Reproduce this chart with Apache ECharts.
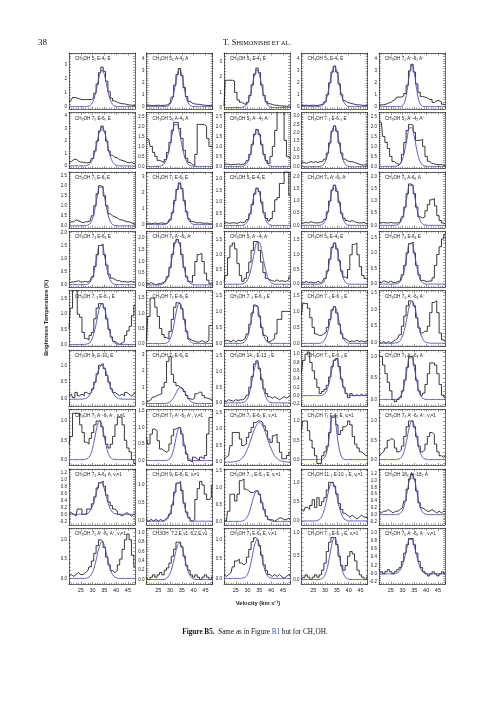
<!DOCTYPE html>
<html><head><meta charset="utf-8">
<script src="https://cdn.jsdelivr.net/npm/echarts@6/dist/echarts.min.js"></script>
<style>html,body{margin:0;padding:0;background:#fff}#c{width:500px;height:708px}</style>
</head><body><div id="c"></div>
<script>
const velocity = [20,21,22,23,24,25,26,27,28,29,30,31,32,33,34,35,36,37,38,39,40,41,42,43,44,45,46,47,48];
const titles = [
 'CH₃OH 5₁ E-4₀ E','CH₃OH 5₄ A-4₄ A','CH₃OH 5₄ E-4₄ E','CH₃OH 5₀ E-4₀ E','CH₃OH 7₁ A⁺-6₁ A⁺',
 'CH₃OH 7₀ E-6₀ E','CH₃OH 5₃ A-4₃ A','CH₃OH 5₂ A⁻-4₂ A⁻','CH₃OH 7₋₁ E-6₋₁ E','CH₃OH 5₂ A⁺-4₂ A⁺',
 'CH₃OH 7₁ E-6₁ E','CH₃OH 7₂ E-6₂ E','CH₃OH 5₁ E-4₁ E','CH₃OH 7₀ A⁺-6₀ A⁺','CH₃OH 7₆ A-6₆ A',
 'CH₃OH 7₃ E-6₃ E','CH₃OH 7₃ A⁺-6₃ A⁺','CH₃OH 5₁ A⁻-4₁ A⁻','CH₃OH 5₃ E-4₃ E','CH₃OH 7₄ E-6₄ E',
 'CH₃OH 7₋₃ E-6₋₃ E','CH₃OH 7₅ E-6₅ E','CH₃OH 7₋₄ E-6₋₄ E','CH₃OH 7₋₅ E-6₋₅ E','CH₃OH 7₄ A⁻-6₄ A⁻',
 'CH₃OH 9₅ E-10₄ E','CH₃OH 7₆ E-6₆ E','CH₃OH 14₋₁ E-13₋₂ E','CH₃OH 7₋₆ E-6₋₆ E','CH₃OH 7₃ A⁻-6₃ A⁻',
 'CH₃OH 7₁ A⁻-6₁ A⁻, vₜ=1','CH₃OH 7₂ A⁺-6₂ A⁺, vₜ=1','CH₃OH 7₀ E-6₀ E, vₜ=1','CH₃OH 7₁ E-6₁ E, vₜ=1','CH₃OH 7₀ A⁺-6₀ A⁺, vₜ=1',
 'CH₃OH 7₄ A-6₄ A, vₜ=1','CH₃OH 9₃ E-8₂ E, vₜ=1','CH₃OH 7₋₂ E-6₋₂ E, vₜ=1','CH₃OH 11₋₁ E-10₋₂ E, vₜ=1','CH₃OH 18₃ A⁺-18₂ A⁻',
 'CH₃OH 7₅ A⁺-6₅ A⁺, vₜ=1','CH3OH  7,2,E,v1  6,2,E,v1','CH₃OH 7₃ E-6₃ E, vₜ=1','CH₃OH 7₋₃ E-6₋₃ E, vₜ=1','CH₃OH 7₆ A⁻-6₆ A⁻, vₜ=1'
];
const yMin = [-0.17,-0.2,-0.1,-0.2,-0.2, -0.2,-0.1,-0.1,-0.1,-0.1, -0.1,-0.2,-0.1,-0.1,-0.1, -0.1,-0.1,-0.1,-0.1,-0.1,
 -0.07,-0.1,-0.1,-0.1,-0.1, -0.2,-0.15,-0.1,-0.25,-0.15, -0.15,-0.15,-0.1,-0.15,-0.15, -0.3,-0.1,-0.1,-0.1,-0.3, -0.15,-0.1,-0.15,-0.1,-0.25];
const yMax = [3.8,4.5,3.6,4.5,4.5, 4.3,2.7,2.7,3.2,2.7, 2.7,3.3,2.3,2.2,2.2, 2.05,2.3,1.8,1.8,1.7,
 1.78,1.75,1.65,1.65,1.55, 1.45,3.3,1.7,1.1,1.15, 1.3,1.55,1.6,1.3,1.3, 1.3,1.45,1.55,1.35,1.35, 1.3,1.1,1.3,1.1,1.1];
const yStep = [1,1,1,1,1, 1,0.5,0.5,0.5,0.5, 0.5,1,0.5,0.5,0.5, 0.5,0.5,0.5,0.5,0.5,
 0.5,0.5,0.5,0.5,0.5, 0.5,1,0.5,0.2,0.5, 0.5,0.5,0.5,0.5,0.5, 0.2,0.5,0.5,0.5,0.2, 0.5,0.2,0.5,0.5,0.2];

const obs01 = [0.35,0.45,0.65,0.6,0.55,0.5,0.5,0.5,0.5,0.5,0.6,0.95,1.6,2.4,2.8,2.5,1.8,1.05,0.6,0.4,0.3,0.25,0.2,0.2,0.15,0.12,0.1,0.08,0.05];
const fit01 = [0,0,0,0,0,0,0,0,0.02,0.08,0.29,0.76,1.50,2.27,2.6,2.27,1.50,0.76,0.29,0.08,0.02,0,0,0,0,0,0,0,0];
const obs02 = [0.1,0.12,0.1,0.08,0.1,0.12,0.1,0.1,0.12,0.15,0.3,0.8,1.8,2.7,3.2,2.6,1.6,0.85,0.45,0.3,0.22,0.2,0.18,0.15,0.12,0.1,0.1,0.08,0.1];
const fit02 = [0,0,0,0,0,0,0,0,0.01,0.04,0.2,0.66,1.58,2.65,3.15,2.65,1.58,0.66,0.2,0.04,0.01,0,0,0,0,0,0,0,0];
const obs03 = [0.1,1.8,1.8,1.8,1.75,1.0,0.5,0.35,0.25,0.2,0.35,0.8,1.5,2.2,2.6,2.3,1.5,0.8,0.4,0.25,0.2,0.15,0.15,0.12,0.1,0.1,0.08,0.1,0.1];
const fit03 = [0,0,0,0,0,0,0,0,0.02,0.08,0.28,0.73,1.45,2.18,2.5,2.18,1.45,0.73,0.28,0.08,0.02,0,0,0,0,0,0,0,0];
const obs04 = [0.1,0.1,0.12,0.1,0.1,0.12,0.1,0.1,0.15,0.2,0.4,1.0,2.0,2.9,3.4,2.9,1.9,1.0,0.5,0.35,0.3,0.25,0.2,0.15,0.15,0.12,0.1,0.1,0.1];
const fit04 = [0,0,0,0,0,0,0,0,0.02,0.11,0.37,0.97,1.94,2.92,3.35,2.92,1.94,0.97,0.37,0.11,0.02,0,0,0,0,0,0,0,0];
const obs05 = [0.1,0.15,0.15,0.2,0.3,0.35,0.5,0.6,0.8,0.8,0.9,1.1,1.8,3.0,3.55,2.9,1.9,1.2,0.85,0.8,0.75,0.6,0.6,0.35,0.5,0.5,0.4,0.2,0.15];
const fit05 = [0,0,0,0,0,0,0,0,0,0.01,0.09,0.46,1.44,2.8,3.5,2.8,1.44,0.46,0.09,0.01,0,0,0,0,0,0,0,0,0];
const obs06 = [0.3,0.35,0.5,0.55,0.4,0.3,0.3,0.25,0.25,0.3,0.6,1.2,2.0,2.8,3.2,2.8,2.0,1.2,0.85,0.7,0.65,0.5,0.45,0.4,0.3,0.25,0.3,0.2,0.2];
const fit06 = [0,0,0,0,0,0,0,0.01,0.06,0.19,0.52,1.14,1.99,2.77,3.1,2.77,1.99,1.14,0.52,0.19,0.06,0.01,0,0,0,0,0,0,0];
const obs07 = [1.4,1.35,1.0,0.7,0.5,0.3,0.25,0.2,0.35,0.7,1.2,1.8,2.2,2.2,1.9,1.4,0.8,0.4,0.2,0.1,0.05,0.6,2.1,2.1,2.1,2.0,1.4,1.0,1.0];
const fit07 = [0,0,0,0,0,0,0.02,0.08,0.23,0.55,1.08,1.67,2.09,2.09,1.67,1.08,0.55,0.23,0.08,0.02,0,0,0,0,0,0,0,0,0];
const obs08 = [0.1,0.12,0.1,0.08,0.1,0.1,0.12,0.1,0.1,0.15,0.3,0.6,1.1,1.6,1.85,1.6,1.1,0.6,0.3,0.15,0.5,1.0,1.8,2.8,2.8,2.8,1.3,0.5,0.4];
const fit08 = [0,0,0,0,0,0,0,0,0.01,0.06,0.21,0.54,1.07,1.61,1.85,1.61,1.07,0.54,0.21,0.06,0.01,0,0,0,0,0,0,0,0];
const obs09 = [0.2,0.25,0.2,0.25,0.3,0.25,0.3,0.25,0.3,0.3,0.45,0.8,1.4,2.1,2.4,2.1,1.4,0.8,0.45,0.35,0.3,0.3,0.25,0.2,0.15,0.1,0.1,0.12,0.1];
const fit09 = [0,0,0,0,0,0,0,0,0.02,0.08,0.27,0.7,1.39,2.09,2.4,2.09,1.39,0.7,0.27,0.08,0.02,0,0,0,0,0,0,0,0];
const obs10 = [2.25,2.2,1.5,1.2,0.9,0.5,0.25,0.15,0.1,0.2,0.6,1.2,1.8,2.1,2.05,1.7,1.3,1.3,1.35,1.0,0.5,0.25,0.15,0.12,0.1,0.08,0.1,0.05,0.05];
const fit10 = [0,0,0,0,0,0,0,0.01,0.03,0.12,0.37,0.85,1.47,1.93,1.93,1.47,0.85,0.37,0.12,0.03,0.01,0,0,0,0,0,0,0,0];
const obs11 = [0.15,0.2,0.2,0.3,0.25,0.2,0.15,0.2,0.2,0.25,0.5,1.0,1.6,2.0,1.95,1.5,1.0,0.6,0.5,0.45,0.4,0.3,0.3,0.25,0.2,0.2,0.15,0.1,0.1];
const fit11 = [0,0,0,0,0,0,0,0.01,0.03,0.12,0.37,0.85,1.47,1.93,1.93,1.47,0.85,0.37,0.12,0.03,0.01,0,0,0,0,0,0,0,0];
const obs12 = [0.05,0.1,0.05,0.08,0.1,0.05,0.1,0.1,0.05,0.1,0.3,0.75,1.5,2.2,2.6,2.25,1.5,0.8,0.35,0.2,0.15,0.1,0.12,0.1,0.08,0.1,0.05,0.05,0.05];
const fit12 = [0,0,0,0,0,0,0,0,0.02,0.08,0.28,0.74,1.47,2.22,2.55,2.22,1.47,0.74,0.28,0.08,0.02,0,0,0,0,0,0,0,0];
const obs13 = [0.1,0.12,0.1,0.1,0.12,0.1,0.1,0.15,0.12,0.15,0.25,0.5,0.9,1.35,1.6,1.45,1.0,0.55,0.3,0.2,0.3,0.6,1.1,1.2,1.8,1.8,2.3,2.3,1.3];
const fit13 = [0,0,0,0,0,0,0,0,0.01,0.05,0.18,0.47,0.92,1.4,1.6,1.4,0.92,0.47,0.18,0.05,0.01,0,0,0,0,0,0,0,0];
const obs14 = [0.1,0.1,0.12,0.1,0.15,0.12,0.1,0.1,0.12,0.15,0.25,0.55,1.0,1.45,1.65,1.4,0.95,0.5,0.3,0.2,0.15,0.2,0.15,0.12,0.1,0.1,0.12,0.08,0.05];
const fit14 = [0,0,0,0,0,0,0,0,0.01,0.05,0.18,0.48,0.95,1.44,1.65,1.44,0.95,0.48,0.18,0.05,0.01,0,0,0,0,0,0,0,0];
const obs15 = [0.15,0.1,0.12,0.1,0.1,0.12,0.1,0.1,0.1,0.15,0.35,0.75,1.3,1.7,1.65,1.3,0.75,0.35,0.3,0.35,0.6,0.85,1.05,1.1,0.8,0.4,0.2,0.1,0.05];
const fit15 = [0,0,0,0,0,0,0,0.01,0.03,0.11,0.32,0.72,1.25,1.64,1.64,1.25,0.72,0.32,0.11,0.03,0.01,0,0,0,0,0,0,0,0];
const obs16 = [0.05,0.1,0.1,0.12,0.15,0.1,0.1,0.12,0.1,0.15,0.3,0.7,1.15,1.5,1.55,1.15,0.75,0.4,0.25,0.2,0.15,0.15,0.1,0.12,0.1,0.1,0.12,0.1,0.1];
const fit16 = [0,0,0,0,0,0,0,0,0.02,0.1,0.29,0.66,1.14,1.5,1.5,1.14,0.66,0.29,0.1,0.02,0,0,0,0,0,0,0,0,0];
const obs17 = [0.05,0.05,0.1,0.05,0.0,0.05,0.05,0.1,0.15,0.35,0.75,1.3,1.8,1.95,1.8,1.3,0.75,0.35,0.15,0.1,0.4,1.0,1.3,1.35,1.0,0.5,0.2,0.05,0.05];
const fit17 = [0,0,0,0,0,0,0.01,0.04,0.12,0.33,0.72,1.25,1.75,1.95,1.75,1.25,0.72,0.33,0.12,0.04,0.01,0,0,0,0,0,0,0,0];
const obs18 = [0.1,0.3,0.9,1.3,1.4,1.2,0.7,0.3,0.1,0.2,0.4,0.75,1.15,1.45,1.45,1.15,0.75,0.4,0.2,0.15,0.12,0.1,0.15,0.1,0.12,0.1,0.1,0.15,0.25];
const fit18 = [0,0,0,0,0,0,0,0,0.01,0.05,0.15,0.37,0.73,1.13,1.41,1.41,1.13,0.73,0.37,0.15,0.05,0.01,0,0,0,0,0,0,0];
const obs19 = [0.05,0.05,0.1,0.05,0.08,0.05,0.05,0.1,0.05,0.1,0.2,0.45,0.85,1.25,1.4,1.2,0.8,0.45,0.25,0.2,0.5,1.0,1.35,1.4,1.0,0.6,0.3,0.2,0.15];
const fit19 = [0,0,0,0,0,0,0,0,0.01,0.04,0.16,0.41,0.81,1.22,1.4,1.22,0.81,0.41,0.16,0.04,0.01,0,0,0,0,0,0,0,0];
const obs20 = [0.05,0.05,0.1,0.08,0.05,0.1,0.05,0.05,0.08,0.1,0.3,0.6,1.0,1.3,1.35,1.0,0.6,0.3,0.12,0.1,0.08,0.1,0.1,0.2,0.6,0.95,1.2,1.45,1.6];
const fit20 = [0,0,0,0,0,0,0,0,0.02,0.08,0.25,0.57,0.99,1.3,1.3,0.99,0.57,0.25,0.08,0.02,0,0,0,0,0,0,0,0,0];
const obs21 = [0.5,1.2,1.8,1.8,1.0,0.9,0.4,0.2,0.15,0.3,0.4,0.85,1.2,1.35,1.35,1.2,0.85,0.5,0.25,0.1,0.05,0.0,0.05,0.1,0.3,0.45,0.6,0.95,1.3];
const fit21 = [0,0,0,0,0,0,0,0.01,0.02,0.08,0.23,0.5,0.87,1.21,1.35,1.21,0.87,0.5,0.23,0.08,0.02,0.01,0,0,0,0,0,0,0];
const obs22 = [0.1,0.9,1.5,1.5,1.2,0.9,0.5,0.3,0.2,0.15,0.4,0.8,1.2,1.35,1.3,1.15,0.8,0.4,0.15,0.1,0.08,0.05,0.05,0.1,0.05,0.05,0.1,0.6,0.6];
const fit22 = [0,0,0,0,0,0,0,0,0.01,0.04,0.15,0.39,0.78,1.18,1.35,1.18,0.78,0.39,0.15,0.04,0.01,0,0,0,0,0,0,0,0];
const obs23 = [0.05,0.1,0.08,0.05,0.1,0.05,0.1,0.08,0.1,0.15,0.3,0.6,0.95,1.2,1.15,0.85,0.5,0.25,0.2,0.05,0.1,0.15,0.3,0.75,0.75,1.0,1.0,1.0,1.0];
const fit23 = [0,0,0,0,0,0,0,0,0.02,0.07,0.22,0.51,0.88,1.16,1.16,0.88,0.51,0.22,0.07,0.02,0,0,0,0,0,0,0,0,0];
const obs24 = [0.9,1.25,1.25,1.1,0.8,0.5,0.3,0.25,0.25,0.3,0.35,0.5,0.75,1.05,1.15,0.95,0.6,0.3,0.15,0.1,0.05,0.08,0.05,0.1,0.05,0.08,0.05,0.05,0.1];
const fit24 = [0,0,0,0,0,0,0,0,0.01,0.04,0.13,0.33,0.66,1.0,1.15,1.0,0.66,0.33,0.13,0.04,0.01,0,0,0,0,0,0,0,0];
const obs25 = [0.05,0.0,0.05,0.0,0.05,0.0,0.05,0.1,0.15,0.25,0.5,0.8,1.1,1.25,1.2,1.1,0.75,0.45,0.3,0.35,0.35,0.5,0.9,1.2,1.25,0.9,0.3,0.1,0.05];
const fit25 = [0,0,0,0,0,0,0,0.01,0.02,0.08,0.21,0.46,0.8,1.12,1.25,1.12,0.8,0.46,0.21,0.08,0.02,0.01,0,0,0,0,0,0,0];
const obs26 = [0.1,0.15,0.05,0.2,0.1,0.15,0.1,0.2,0.15,0.2,0.3,0.5,0.75,1.0,1.05,0.9,0.7,0.5,0.3,0.2,0.15,0.1,0.15,0.1,0.2,0.15,0.1,0.15,0.2];
const fit26 = [0,0,0,0,0,0,0.01,0.02,0.06,0.15,0.29,0.5,0.74,0.93,1.0,0.93,0.74,0.5,0.29,0.15,0.06,0.02,0.01,0,0,0,0,0,0];
const obs27 = [0.1,0.15,0.25,0.4,0.5,0.55,0.6,1.0,1.3,2.6,2.9,1.8,1.3,1.1,1.0,0.9,0.75,0.5,0.3,0.25,0.35,0.6,0.7,0.7,0.5,0.35,0.3,0.25,0.2];
const fit27 = [0,0,0,0,0,0,0,0,0.01,0.04,0.11,0.26,0.5,0.78,0.97,0.97,0.78,0.5,0.26,0.11,0.04,0.01,0,0,0,0,0,0,0];
const obs28 = [0.05,0.05,0.1,0.08,0.05,0.1,0.08,0.1,0.1,0.15,0.25,0.5,0.85,1.25,1.35,1.1,0.75,0.45,0.3,0.2,0.15,0.2,0.15,0.1,0.15,0.2,0.15,0.2,0.25];
const fit28 = [0,0,0,0,0,0,0,0,0.01,0.04,0.14,0.38,0.75,1.13,1.3,1.13,0.75,0.38,0.14,0.04,0.01,0,0,0,0,0,0,0,0];
const obs29 = [0.55,0.85,1.0,1.05,0.8,0.6,0.4,0.2,0.05,0.1,0.15,0.25,0.45,0.7,0.85,0.9,0.7,0.4,0.2,0.05,-0.05,0.05,0.0,0.02,0.0,0.03,0.0,0.02,0.0];
const fit29 = [0,0,0,0,0,0,0,0,0,0.01,0.06,0.17,0.38,0.66,0.87,0.87,0.66,0.38,0.17,0.06,0.01,0,0,0,0,0,0,0,0];
const obs30 = [1.05,1.0,0.8,0.6,0.4,0.2,0.0,-0.05,0.0,0.05,0.2,0.45,0.75,1.0,1.0,0.8,0.45,0.2,0.1,0.15,0.35,0.6,0.85,0.85,0.8,0.6,0.35,0.1,0.05];
const fit30 = [0,0,0,0,0,0,0,0,0.02,0.06,0.19,0.43,0.74,0.97,0.97,0.74,0.43,0.19,0.06,0.02,0,0,0,0,0,0,0,0,0];
const obs31 = [0.4,0.6,1.2,1.2,1.2,0.9,0.7,0.45,0.4,0.55,0.7,0.9,1.0,1.0,0.85,0.6,0.4,0.3,0.4,0.6,0.9,1.1,1.1,0.9,0.5,0.3,0.2,0.0,-0.1];
const fit31 = [0,0,0,0,0,0,0,0.01,0.03,0.11,0.29,0.58,0.87,1.0,0.87,0.58,0.29,0.11,0.03,0.01,0,0,0,0,0,0,0,0,0];
const obs32 = [0.7,0.5,0.8,0.95,0.9,0.6,0.35,0.3,0.25,0.3,0.5,0.75,0.95,1.0,1.0,0.8,0.45,0.2,0.0,-0.05,0.1,0.05,0.0,0.1,0.05,0.15,0.8,1.3,1.3];
const fit32 = [0,0,0,0,0,0,0,0,0,0.01,0.06,0.21,0.5,0.84,1.0,0.84,0.5,0.21,0.06,0.01,0,0,0,0,0,0,0,0,0];
const obs33 = [0.1,0.15,0.2,0.5,0.9,0.9,0.9,0.7,0.5,0.55,0.75,0.9,1.05,1.2,1.25,1.25,1.2,1.1,0.95,0.7,0.6,0.8,0.85,0.6,0.3,0.1,0.1,0.2,0.3];
const fit33 = [0,0,0,0,0.01,0.02,0.04,0.08,0.14,0.25,0.41,0.6,0.81,1.01,1.15,1.2,1.15,1.01,0.81,0.6,0.41,0.25,0.14,0.08,0.04,0.02,0.01,0,0];
const obs34 = [0.75,1.0,1.0,0.75,0.5,0.3,0.1,-0.1,-0.1,0.1,0.2,0.35,0.7,1.1,1.15,0.9,0.65,0.75,0.85,0.9,1.0,0.9,0.6,0.4,0.3,0.2,0.15,0.1,0.1];
const fit34 = [0,0,0,0,0,0,0,0,0,0.01,0.07,0.28,0.69,1.09,1.09,0.69,0.28,0.07,0.01,0,0,0,0,0,0,0,0,0,0];
const obs35 = [0.1,0.15,0.2,0.3,0.5,0.55,0.5,0.3,0.2,0.25,0.35,0.6,0.85,1.0,1.0,0.85,0.6,0.35,0.2,0.25,0.4,0.6,0.7,0.65,0.4,0.2,0.1,0.05,0.1];
const fit35 = [0,0,0,0,0,0,0,0,0.01,0.03,0.11,0.29,0.58,0.87,1.0,0.87,0.58,0.29,0.11,0.03,0.01,0,0,0,0,0,0,0,0];
const obs36 = [0.0,0.05,0.0,-0.05,0.15,0.15,0.0,0.0,0.15,0.15,0.3,0.5,0.75,0.9,0.95,0.8,0.55,0.35,0.25,0.15,0.1,0.0,-0.05,0.0,0.05,0.0,-0.05,0.0,0.0];
const fit36 = [0,0,0,0,0,0,0,0.01,0.03,0.1,0.24,0.46,0.72,0.9,0.9,0.72,0.46,0.24,0.1,0.03,0.01,0,0,0,0,0,0,0,0];
const obs37 = [0.05,0.0,0.05,0.0,0.05,0.0,0.05,0.0,0.05,0.1,0.2,0.45,0.8,1.05,1.1,0.85,0.5,0.25,0.1,0.0,0.05,0.6,0.9,1.1,1.0,0.75,0.6,0.65,1.0];
const fit37 = [0,0,0,0,0,0,0,0,0.02,0.07,0.21,0.47,0.81,1.06,1.06,0.81,0.47,0.21,0.07,0.02,0,0,0,0,0,0,0,0,0];
const obs38 = [0.05,0.0,0.3,0.8,0.8,0.6,0.8,1.2,1.25,0.95,0.9,0.85,0.85,0.9,0.9,0.8,0.55,0.35,0.15,0.05,0.05,0.0,0.05,0.1,0.1,0.05,0.05,0.1,0.05];
const fit38 = [0,0,0,0,0,0,0,0,0.02,0.06,0.15,0.33,0.58,0.81,0.9,0.81,0.58,0.33,0.15,0.06,0.02,0,0,0,0,0,0,0,0];
const obs39 = [0.3,0.25,0.35,0.3,0.4,0.55,0.35,0.6,0.4,0.5,0.6,0.8,1.0,1.0,0.9,0.7,0.45,0.3,0.2,0.15,0.1,0.15,0.1,0.05,0.1,0.15,0.1,0.1,0.05];
const fit39 = [0,0,0,0,0,0,0,0.02,0.06,0.17,0.37,0.64,0.9,1.0,0.9,0.64,0.37,0.17,0.06,0.02,0,0,0,0,0,0,0,0,0];
const obs40 = [0.1,0.05,0.1,0.1,0.15,0.1,0.05,0.1,0.1,0.15,0.2,0.4,0.75,1.05,1.2,1.05,0.7,0.35,0.2,0.15,0.1,0.1,0.15,0.1,0.05,0.1,0.05,0.1,0.1];
const fit40 = [0,0,0,0,0,0,0,0,0.01,0.04,0.13,0.35,0.69,1.05,1.2,1.05,0.69,0.35,0.13,0.04,0.01,0,0,0,0,0,0,0,0];
const obs41 = [0.05,0.1,0.05,0.1,0.15,0.1,0.1,0.15,0.2,0.3,0.45,0.65,0.85,1.0,0.95,0.8,0.55,0.35,0.2,0.15,0.2,0.35,0.5,0.75,1.0,1.15,1.0,0.6,0.3];
const fit41 = [0,0,0,0,0,0,0,0,0.02,0.06,0.16,0.35,0.61,0.85,0.95,0.85,0.61,0.35,0.16,0.06,0.02,0,0,0,0,0,0,0,0];
const obs42 = [0.05,0.0,0.05,0.1,0.05,0.1,0.15,0.1,0.2,0.25,0.35,0.5,0.65,0.8,0.8,0.7,0.5,0.3,0.2,0.1,0.05,0.1,0.05,0.0,0.05,0.1,0.05,0.0,0.05];
const fit42 = [0,0,0,0,0,0,0,0,0.01,0.05,0.13,0.29,0.5,0.7,0.78,0.7,0.5,0.29,0.13,0.05,0.01,0,0,0,0,0,0,0,0];
const obs43 = [0.1,0.05,0.1,0.15,0.3,0.45,0.5,0.4,0.35,0.4,0.55,0.75,0.95,1.05,1.0,0.85,0.6,0.35,0.2,0.1,0.05,0.1,0.05,0.1,0.05,0.0,0.05,0.1,0.05];
const fit43 = [0,0,0,0,0,0,0,0,0.01,0.03,0.11,0.29,0.58,0.87,1.0,0.87,0.58,0.29,0.11,0.03,0.01,0,0,0,0,0,0,0,0];
const obs44 = [0.0,0.05,0.1,0.05,0.0,0.05,0.1,0.05,0.1,0.2,0.35,0.6,0.8,0.9,0.9,0.75,0.5,0.3,0.2,0.3,0.5,0.6,0.55,0.4,0.2,0.1,0.05,0.0,0.05];
const fit44 = [0,0,0,0,0,0,0,0,0.01,0.03,0.1,0.26,0.52,0.78,0.9,0.78,0.52,0.26,0.1,0.03,0.01,0,0,0,0,0,0,0,0];
const obs45 = [0.1,0.05,0.0,0.05,0.1,0.05,0.0,0.05,0.1,0.15,0.3,0.5,0.7,0.85,0.85,0.7,0.5,0.3,0.15,0.05,0.0,-0.05,0.0,0.05,0.0,-0.05,0.0,0.05,0.0];
const fit45 = [0,0,0,0,0,0,0,0.01,0.03,0.09,0.22,0.43,0.66,0.83,0.83,0.66,0.43,0.22,0.09,0.03,0.01,0,0,0,0,0,0,0,0];

const obsAll = [obs01,obs02,obs03,obs04,obs05,obs06,obs07,obs08,obs09,obs10,obs11,obs12,obs13,obs14,obs15,
 obs16,obs17,obs18,obs19,obs20,obs21,obs22,obs23,obs24,obs25,obs26,obs27,obs28,obs29,obs30,
 obs31,obs32,obs33,obs34,obs35,obs36,obs37,obs38,obs39,obs40,obs41,obs42,obs43,obs44,obs45];
const fitAll = [fit01,fit02,fit03,fit04,fit05,fit06,fit07,fit08,fit09,fit10,fit11,fit12,fit13,fit14,fit15,
 fit16,fit17,fit18,fit19,fit20,fit21,fit22,fit23,fit24,fit25,fit26,fit27,fit28,fit29,fit30,
 fit31,fit32,fit33,fit34,fit35,fit36,fit37,fit38,fit39,fit40,fit41,fit42,fit43,fit44,fit45];

const GX0 = 69, GDX = 77.5, GW = 66, GY0 = 53, GDY = 59.4, GH = 56;
const AX = '#2a2a2a';
const FONT = 'Liberation Sans';
const option = {animation:false, backgroundColor:'#fff', grid:[], xAxis:[], yAxis:[], series:[], title:[], graphic:[]};

function rnd(v){ const r = Math.round(v*1000)/1000; return Math.abs(r) < 1e-9 ? 0 : r; }

for (let i = 0; i < 45; i++) {
  const r = Math.floor(i/5), c = i%5;
  const left = GX0 + c*GDX, top = GY0 + r*GDY;
  option.grid.push({left:left, top:top, width:GW, height:GH});
  const bottomRow = (r === 8);
  const xBase = {type:'value', gridIndex:i, min:20, max:48, interval:5,
    axisLine:{show:true, onZero:false, lineStyle:{color:AX, width:0.7}},
    axisTick:{show:true, inside:true, length:2.5, lineStyle:{color:AX, width:0.5}},
    minorTick:{show:true, splitNumber:5, length:1.3, lineStyle:{color:AX, width:0.5}},
    splitLine:{show:false}, minorSplitLine:{show:false}};
  option.xAxis.push(Object.assign({}, xBase, {position:'bottom',
    axisLabel:{show:bottomRow, fontSize:5.5, margin:3, color:'#222', fontFamily:FONT, showMinLabel:false, showMaxLabel:false}}));
  option.xAxis.push(Object.assign({}, xBase, {position:'top', axisLabel:{show:false}}));

  const step = yStep[i];
  const majors = [];
  for (let k = Math.ceil(yMin[i]/step - 1e-9); k*step <= yMax[i] + 1e-9; k++) majors.push(rnd(k*step));
  const mstep = step === 0.2 ? 0.05 : step/5;
  const minors = [];
  for (let k = Math.ceil(yMin[i]/mstep - 1e-9); k*mstep <= yMax[i] + 1e-9; k++) minors.push(rnd(k*mstep));
  const dec = step >= 1 ? 0 : 1;
  const yBase = {type:'value', gridIndex:i, min:yMin[i], max:yMax[i],
    axisLine:{show:true, onZero:false, lineStyle:{color:AX, width:0.7}},
    axisTick:{show:true, inside:true, length:1.8, customValues:minors, lineStyle:{color:AX, width:0.5}},
    splitLine:{show:false}};
  option.yAxis.push(Object.assign({}, yBase, {position:'left',
    axisLabel:{show:true, customValues:majors, fontSize:4.5, margin:2, color:'#222', fontFamily:FONT,
      formatter: v => rnd(v).toFixed(dec)}}));
  option.yAxis.push(Object.assign({}, yBase, {position:'right', axisLabel:{show:false}}));

  option.series.push({type:'line', xAxisIndex:2*i, yAxisIndex:2*i, step:'middle', symbol:'none',
    lineStyle:{color:'#151515', width:0.85}, clip:true, z:2,
    data: velocity.map((v,j) => [v, obsAll[i][j]])});
  option.series.push({type:'line', xAxisIndex:2*i, yAxisIndex:2*i, smooth:0.4, symbol:'none',
    lineStyle:{color:'#4b4bc4', width:0.9}, clip:true, z:3,
    data: velocity.map((v,j) => [v, fitAll[i][j]])});

  option.title.push({text:titles[i], left:left+6, top:top+3.5, padding:0,
    textStyle:{fontSize:4.6, fontWeight:'normal', color:'#1a1a1a', fontFamily:FONT}});
}

option.graphic = [
  {type:'text', x:38, y:43, style:{text:'38', fontSize:9, fontFamily:'Liberation Serif', fill:'#111', verticalAlign:'middle'}},
  {type:'text', x:257, y:43, style:{text:'{a|T. S}{b|HIMONISHI ET AL.}', align:'center', verticalAlign:'middle', fill:'#111',
    rich:{a:{fontSize:8.5, fontFamily:'Liberation Serif', fill:'#111'}, b:{fontSize:6.3, fontFamily:'Liberation Serif', fill:'#111'}}}},
  {type:'text', x:46, y:318, rotation:Math.PI/2, style:{text:'Brightness Temperature (K)', fontSize:5.8, fontWeight:'bold',
    fontFamily:FONT, fill:'#222', align:'center', verticalAlign:'middle'}},
  {type:'text', x:258, y:603, style:{text:'Velocity (km s⁻¹)', fontSize:5.8, fontWeight:'bold',
    fontFamily:FONT, fill:'#222', align:'center', verticalAlign:'middle'}},
  {type:'text', x:255, y:632, style:{text:'{b|Figure B5.}{n|  Same as in Figure }{l|B1}{n| but for CH₃OH.}', align:'center', verticalAlign:'middle',
    rich:{b:{fontSize:7.2, fontWeight:'bold', fontFamily:'Liberation Serif', fill:'#111'},
          n:{fontSize:7.2, fontFamily:'Liberation Serif', fill:'#111'},
          l:{fontSize:7.2, fontFamily:'Liberation Serif', fill:'#3355bb'}}}}
];

const chart = echarts.init(document.getElementById('c'), null, {renderer:'canvas', width:500, height:708});
chart.setOption(option);
</script>
</body></html>
